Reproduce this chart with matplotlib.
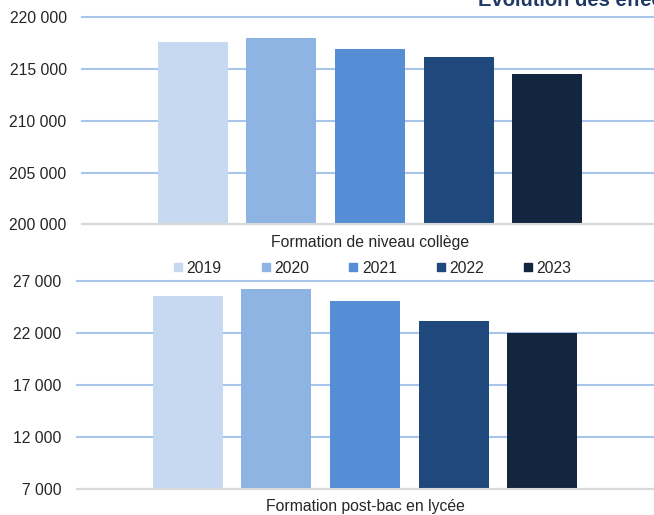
import matplotlib
matplotlib.use("Agg")
import matplotlib.pyplot as plt
from matplotlib.lines import Line2D
from matplotlib.ticker import FuncFormatter

years = ["2019", "2020", "2021", "2022", "2023"]
college_values = [217550, 217930, 216880, 216100, 214470]
postbac_values = [25530, 26200, 25050, 23100, 21950]
college_label = "Formation de niveau collège"
postbac_label = "Formation post-bac en lycée"
title = "Evolution des effectifs"
college_ticks = [200000, 205000, 210000, 215000, 220000]
postbac_ticks = [7000, 12000, 17000, 22000, 27000]

colors = ["#C6D9F1", "#8EB4E3", "#558ED5", "#1F497D", "#12263F"]
grid_color = "#A9C5EB"
text_color = "#262626"

plt.rcParams['font.family'] = ['Liberation Sans', 'DejaVu Sans']

fig = plt.figure(figsize=(6.54, 5.15), dpi=100)

def fmt(v, _):
    return f"{int(v):,}".replace(",", " ")

def draw(ax, values, ticks, label):
    xs = list(range(len(values)))
    ax.bar(xs, values, width=0.79, color=colors, zorder=3)
    ax.set_xlim(-1.25, 5.25)
    ax.set_ylim(ticks[0], ticks[-1])
    ax.set_yticks(ticks)
    ax.yaxis.set_major_formatter(FuncFormatter(fmt))
    ax.set_xticks([])
    ax.tick_params(axis='y', length=0, pad=11, labelsize=11.3, labelcolor=text_color)
    ax.grid(axis='y', color=grid_color, linewidth=1.5, zorder=0)
    for gl in ax.get_ygridlines():
        gl.set_clip_on(False)
    for s in ["top", "left", "right"]:
        ax.spines[s].set_visible(False)
    ax.spines["bottom"].set_color("#D9D9D9")
    ax.spines["bottom"].set_linewidth(1.5)
    ax.spines["bottom"].set_zorder(4)
    ax.text(0.5, -0.085, label, transform=ax.transAxes, ha='center', va='center',
            fontsize=11.3, color=text_color)

ax1 = fig.add_axes([0.1254, 0.5641, 0.8806, 0.4035])
draw(ax1, college_values, college_ticks, college_label)

ax2 = fig.add_axes([0.1177, 0.0511, 0.8808, 0.4039])
draw(ax2, postbac_values, postbac_ticks, postbac_label)

handles = [Line2D([0], [0], marker='s', linestyle='none', markersize=6,
                  markerfacecolor=c, markeredgecolor=c) for c in colors]
fig.legend(handles, years, loc='center', bbox_to_anchor=(0.570, 0.4796), ncol=5,
           frameon=False, fontsize=11.3, handlelength=0.5, handletextpad=0.3,
           columnspacing=2.55, labelcolor=text_color)

fig.text(478 / 654, 1 - 6 / 515, title, ha='left', va='baseline',
         fontsize=14.5, fontweight='bold', color="#1F3864")

fig.savefig("out.png", dpi=100)
